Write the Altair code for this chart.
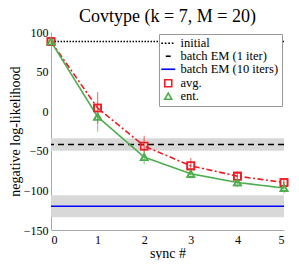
import altair as alt
import pandas as pd

sync = [0, 1, 2, 3, 4, 5]
avg_mean = [88, 4, -44, -69, -82, -90]
avg_err = [0, 20, 13, 10, 6, 5]
ent_mean = [88, -7, -58, -79, -90, -97]
ent_err = [0, 19, 9, 6, 6, 7]

ref_names = ["initial", "batch EM (1 iter)", "batch EM (10 iters)"]
ref_values = [88, -42, -120]

band_names = ["batch EM (1 iter)", "batch EM (10 iters)"]
band_lo = [-50, -134]
band_hi = [-34, -106]

series = ["initial", "batch EM (1 iter)", "batch EM (10 iters)", "avg.", "ent."]
colors = ["#000000", "#000000", "#0000ff", "#ee1c24", "#4cae4c"]
dashes = {"initial": [1.5, 1.5], "batch EM (1 iter)": [6, 4], "batch EM (10 iters)": [1, 0],
          "avg.": [6, 2.5, 2, 2.5], "ent.": [1, 0]}
shapes = [
    "M-2,0H-1.5M-1,0H-0.5M0,0H0.5M1,0H1.5",
    "M-0.7,0H0.7",
    "M-2,0H2",
    "square",
    "triangle-up",
]

curves = pd.DataFrame({
    "sync": sync * 2,
    "series": ["avg."] * 6 + ["ent."] * 6,
    "value": avg_mean + ent_mean,
    "err": avg_err + ent_err,
})
curves["lo"] = curves["value"] - curves["err"]
curves["hi"] = curves["value"] + curves["err"]

refs = pd.DataFrame({"series": ref_names, "value": ref_values})
bands = pd.DataFrame({"series": band_names, "lo": band_lo, "hi": band_hi})

FONT = "Liberation Serif, Times New Roman, serif"

ax_common = dict(labelFont=FONT, titleFont=FONT, labelOverlap=False, ticks=False,
                 labelFontSize=12, titleFontSize=14, titleFontWeight="normal",
                 labelColor="#000", titleColor="#000", domainColor="#aaaaaa", grid=False)

x_axis = alt.Axis(title="sync #", values=[0, 1, 2, 3, 4, 5], format="d",
                  labelPadding=4, titlePadding=1, **ax_common)
y_axis = alt.Axis(title="negative log-likelihood", values=[-150, -100, -50, 0, 50, 100],
                  labelPadding=3, titlePadding=1, **ax_common)
x_scale = alt.Scale(domain=[0, 5], nice=False)
y_scale = alt.Scale(domain=[-150, 100], nice=False)

xs = alt.X("sync:Q", scale=x_scale, axis=x_axis)
ys = alt.Y("value:Q", scale=y_scale, axis=y_axis)

leg = alt.Legend(title=None, orient="top-right", offset=2, labelFont=FONT, labelFontSize=12.5)
color = alt.Color("series:N", scale=alt.Scale(domain=series, range=colors), legend=leg)
shape = alt.Shape("series:N", scale=alt.Scale(domain=series, range=shapes), legend=leg)

band_layer = alt.Chart(bands).mark_rect(color="#d6d6d6", opacity=0.95).encode(
    y=alt.Y("lo:Q", scale=y_scale, axis=y_axis),
    y2="hi:Q",
)

ref_layers = [
    alt.Chart(refs).transform_filter(alt.datum.series == name).mark_rule(
        strokeWidth=1.6, strokeDash=dashes[name]).encode(y=ys, color=color)
    for name in ref_names
]

err_layer = alt.Chart(curves).mark_rule(strokeWidth=1.3, opacity=0.55).encode(
    x=xs,
    y=alt.Y("lo:Q", scale=y_scale, axis=y_axis),
    y2="hi:Q",
    color=alt.Color("series:N", scale=alt.Scale(domain=series, range=colors), legend=None),
)

line_layers = [
    alt.Chart(curves).transform_filter(alt.datum.series == name).mark_line(
        strokeWidth=1.6, strokeDash=dashes[name]).encode(x=xs, y=ys, color=color)
    for name in ["avg.", "ent."]
]

point_layer = alt.Chart(curves).mark_point(filled=False, size=50, strokeWidth=1.6, opacity=1).encode(
    x=xs, y=ys, color=color, shape=shape,
)

chart = alt.layer(point_layer, band_layer, *ref_layers, err_layer, *line_layers, point_layer).properties(
    width=283,
    height=252,
    autosize=alt.AutoSizeParams(type="fit", contains="padding"),
    padding=0,
    title=alt.Title("Covtype (k = 7, M = 20)", font=FONT, fontSize=18, fontWeight="normal",
                    offset=0, frame="group"),
).configure(font=FONT).configure_view(stroke=None).configure_legend(
    labelFont=FONT, labelFontSize=12.5, labelColor="#000",
    strokeColor="#999999", fillColor="white", padding=3, rowPadding=0,
    symbolSize=49, symbolStrokeWidth=1.6, labelOffset=6, cornerRadius=0,
)

chart.save("out.html", embed_options={"renderer": "svg", "actions": False})
